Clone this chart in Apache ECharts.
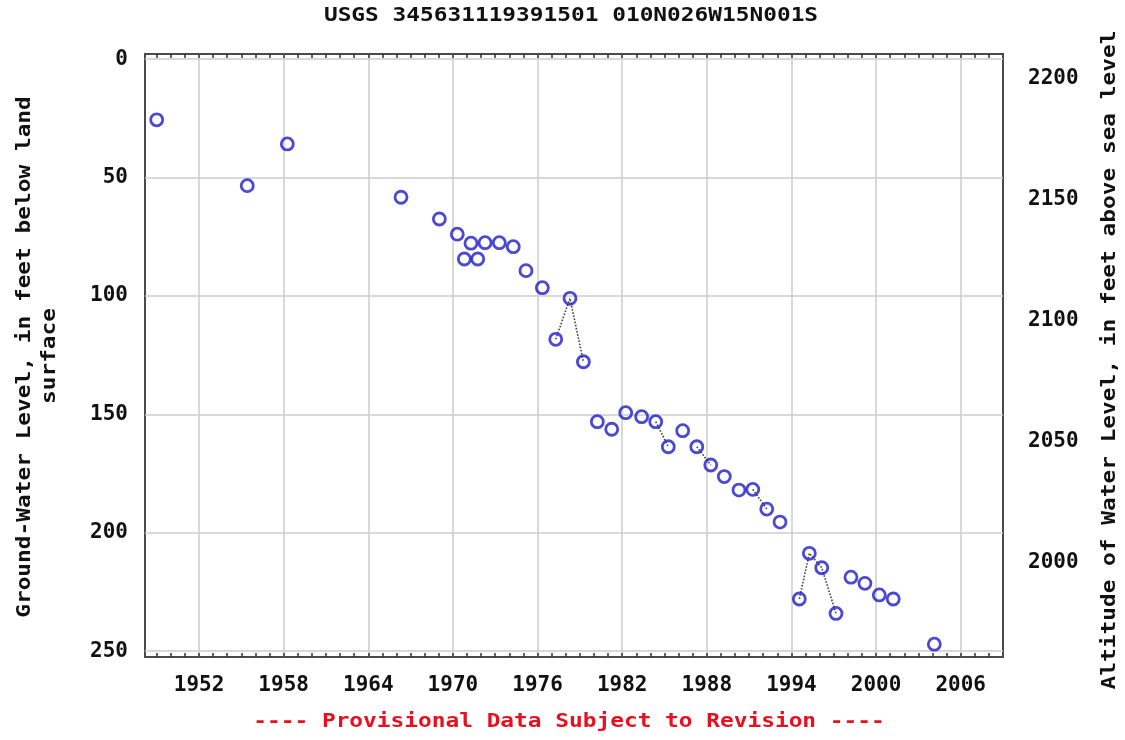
<!DOCTYPE html>
<html>
<head>
<meta charset="utf-8">
<title>USGS 345631119391501 010N026W15N001S</title>
<script src="https://cdn.jsdelivr.net/npm/echarts@6/dist/echarts.min.js"></script>
<style>
  html, body { margin: 0; padding: 0; background: #ffffff; }
  #chart { width: 1125px; height: 740px; }
</style>
</head>
<body>
<div id="chart"></div>
<script>
// Measurement dates (decimal years) and depth to water, feet below land surface
const years = [
  1949.00, 1955.42, 1958.26, 1966.32, 1969.04, 1970.31, 1970.81, 1971.28,
  1971.76, 1972.28, 1973.29, 1974.28, 1975.18, 1976.34, 1977.29, 1978.30,
  1979.25, 1980.24, 1981.26, 1982.25, 1983.38, 1984.38, 1985.27, 1986.29,
  1987.29, 1988.28, 1989.24, 1990.28, 1991.26, 1992.25, 1993.19, 1994.56,
  1995.27, 1996.15, 1997.16, 1998.22, 1999.21, 2000.23, 2001.22, 2004.13
];
const depths = [
  25.6, 53.4, 35.8, 58.3, 67.5, 73.9, 84.4, 77.7,
  84.4, 77.5, 77.5, 79.2, 89.3, 96.5, 118.3, 101.0,
  127.8, 153.1, 156.3, 149.3, 151.0, 153.1, 163.7, 156.9,
  163.7, 171.4, 176.3, 182.0, 181.7, 190.0, 195.5, 228.0,
  208.7, 214.8, 234.1, 218.8, 221.4, 226.3, 228.0, 247.1
];
// 1 = joined to the previous measurement by a dotted line
const joined = [
  0, 0, 0, 0, 0, 0, 0, 0,
  0, 0, 0, 0, 0, 0, 0, 1,
  1, 0, 0, 0, 0, 0, 1, 0,
  0, 1, 0, 0, 0, 1, 0, 0,
  1, 1, 1, 0, 0, 0, 0, 0
];

// Axis tick labels
const yearTicks = [1952, 1958, 1964, 1970, 1976, 1982, 1988, 1994, 2000, 2006];
const depthTicks = [0, 50, 100, 150, 200, 250];
const altitudeTicks = [2000, 2050, 2100, 2150, 2200];
const minorYears = [];
for (let y = 1949; y <= 2008; y++) minorYears.push(y);

const points = years.map((y, i) => [y, depths[i]]);

// Dotted connector segments
const segments = [];
let current = null;
points.forEach((p, i) => {
  if (i > 0 && joined[i]) {
    if (!current) { current = [points[i - 1]]; segments.push(current); }
    current.push(p);
  } else {
    current = null;
  }
});

const MONO = '"DejaVu Sans Mono", "Liberation Mono", monospace';
const plain = v => String(Math.round(v));
const labelFont = { fontFamily: MONO, fontWeight: 'bold', fontSize: 21, color: '#111', formatter: plain };

const xCommon = { type: 'value', min: 1948.17, max: 2009.0, axisLine: { show: false } };

const chart = echarts.init(document.getElementById('chart'), null, { renderer: 'canvas' });

const textStyle = (text, fill) => ({
  text: text, font: 'bold 19px ' + MONO, fill: fill,
  align: 'center', verticalAlign: 'middle',
  textAlign: 'center', textVerticalAlign: 'middle'
});

const option = {
  backgroundColor: '#ffffff',
  animation: false,
  grid: {
    left: 145, right: 122, top: 54, bottom: 83,
    show: true, backgroundColor: '#ffffff',
    borderColor: '#4a4a4a', borderWidth: 2
  },
  xAxis: [
    Object.assign({}, xCommon, {
      position: 'bottom',
      axisTick: { show: false, customValues: yearTicks },
      axisLabel: Object.assign({ customValues: yearTicks, margin: 18 }, labelFont),
      splitLine: { show: true, lineStyle: { color: '#cccccc', width: 1.5 } }
    }),
    Object.assign({}, xCommon, {
      position: 'top',
      axisTick: { show: true, inside: true, length: 4, customValues: minorYears,
                  lineStyle: { color: '#333', width: 1.5 } },
      axisLabel: { show: false },
      splitLine: { show: false }
    }),
    Object.assign({}, xCommon, {
      position: 'bottom',
      axisTick: { show: true, inside: true, length: 4, customValues: minorYears,
                  lineStyle: { color: '#333', width: 1.5 } },
      axisLabel: { show: false },
      splitLine: { show: false }
    })
  ],
  yAxis: [
    {
      type: 'value', inverse: true, min: -2.2, max: 252.5, position: 'left',
      axisLine: { show: false },
      axisTick: { show: false, customValues: depthTicks },
      axisLabel: Object.assign({ customValues: depthTicks, margin: 17 }, labelFont),
      splitLine: { show: true, lineStyle: { color: '#cccccc', width: 1.5 } }
    },
    {
      type: 'value', min: 1960.95, max: 2210.1, position: 'right',
      axisLine: { show: false },
      axisTick: { show: false, customValues: altitudeTicks },
      axisLabel: Object.assign({ customValues: altitudeTicks, margin: 25 }, labelFont),
      splitLine: { show: false }
    }
  ],
  series: segments.map(seg => ({
    type: 'line',
    data: seg,
    xAxisIndex: 0, yAxisIndex: 0,
    symbol: 'none',
    silent: true,
    z: 2,
    lineStyle: { type: 'dotted', color: '#444444', width: 1.6 }
  })).concat([{
    type: 'scatter',
    data: points,
    xAxisIndex: 0, yAxisIndex: 0,
    symbol: 'circle',
    symbolSize: 12,
    z: 3,
    itemStyle: { color: 'rgba(255,255,255,0)', borderColor: '#1c1cc8', borderWidth: 2.8 }
  }]),
  graphic: [
    { type: 'text', x: 571, y: 16, scaleX: 1.2,
      style: textStyle('USGS 345631119391501 010N026W15N001S', '#111') },
    { type: 'text', x: 25, y: 357, rotation: Math.PI / 2, scaleX: 1.2,
      style: textStyle('Ground-Water Level, in feet below land', '#111') },
    { type: 'text', x: 50, y: 356, rotation: Math.PI / 2, scaleX: 1.2,
      style: textStyle('surface', '#111') },
    { type: 'text', x: 1110, y: 360, rotation: Math.PI / 2, scaleX: 1.2,
      style: textStyle('Altitude of Water Level, in feet above sea level', '#111') },
    { type: 'text', x: 569, y: 722, scaleX: 1.2,
      style: textStyle('---- Provisional Data Subject to Revision ----', '#e81020') }
  ]
};

chart.setOption(option);
</script>
</body>
</html>
